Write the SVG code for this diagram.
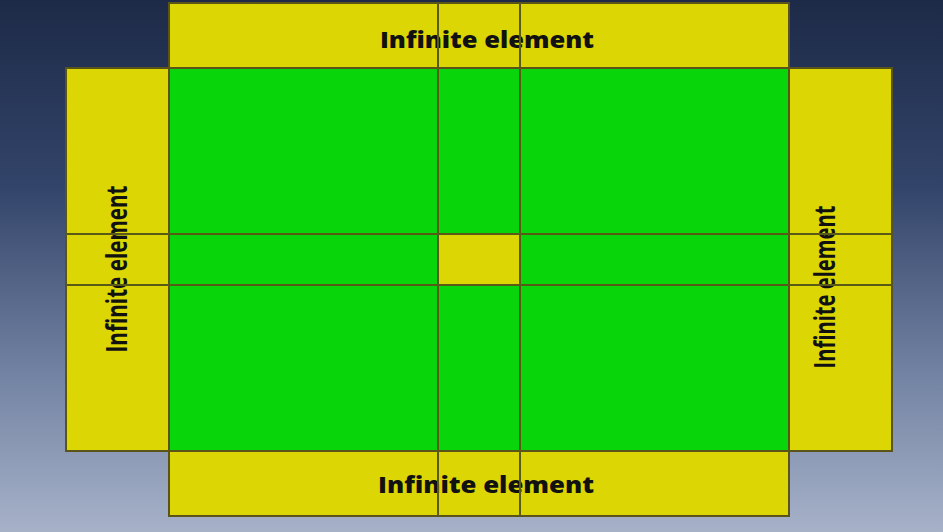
<svg xmlns="http://www.w3.org/2000/svg" width="943" height="532" viewBox="0 0 943 532">
<defs>
<linearGradient id="bg" x1="0" y1="0" x2="0" y2="1">
<stop offset="0" stop-color="#1d2a47"/>
<stop offset="0.35" stop-color="#33446a"/>
<stop offset="0.7" stop-color="#7282a2"/>
<stop offset="1" stop-color="#a7b2c9"/>
</linearGradient>
</defs>
<style>
.y{fill:#dcd605;stroke:#5a5418;stroke-width:2}
.g{fill:#08d60a;stroke:#3a6a18;stroke-width:2}
.ln{stroke:#5a5a18;stroke-width:2;fill:none}
.t{font-family:"Open Sans","DejaVu Sans",sans-serif;font-weight:800;font-size:23px;fill:#111}
.v{font-family:"Open Sans",sans-serif;font-weight:bold;font-size:28px;fill:#111}
</style>
<rect width="943" height="532" fill="url(#bg)"/>
<g id="main"><rect class="g" x="169" y="68" width="620" height="383"/></g>
<g id="top"><rect class="y" x="169" y="3" width="620" height="65"/>
<text class="t" x="487" y="48" text-anchor="middle" textLength="214" lengthAdjust="spacingAndGlyphs">Infinite element</text></g>
<g id="bottom"><rect class="y" x="169" y="451" width="620" height="65"/>
<text class="t" x="486" y="493" text-anchor="middle" textLength="216" lengthAdjust="spacingAndGlyphs">Infinite element</text></g>
<g id="left"><rect class="y" x="66" y="68" width="103" height="383"/>
<text class="v" transform="translate(127,269) rotate(-90)" text-anchor="middle" textLength="167" lengthAdjust="spacingAndGlyphs">Infinite element</text></g>
<g id="right"><rect class="y" x="789" y="68" width="103" height="383"/>
<text class="v" transform="translate(835,287) rotate(-90)" text-anchor="middle" textLength="163" lengthAdjust="spacingAndGlyphs">Infinite element</text></g>
<g id="center"><rect class="y" x="438" y="234" width="82" height="51"/></g>
<g id="lines">
<line class="ln" x1="438" y1="3" x2="438" y2="516"/>
<line class="ln" x1="520" y1="3" x2="520" y2="516"/>
<line class="ln" x1="66" y1="234" x2="892" y2="234"/>
<line class="ln" x1="66" y1="285" x2="892" y2="285"/>
</g>
</svg>
